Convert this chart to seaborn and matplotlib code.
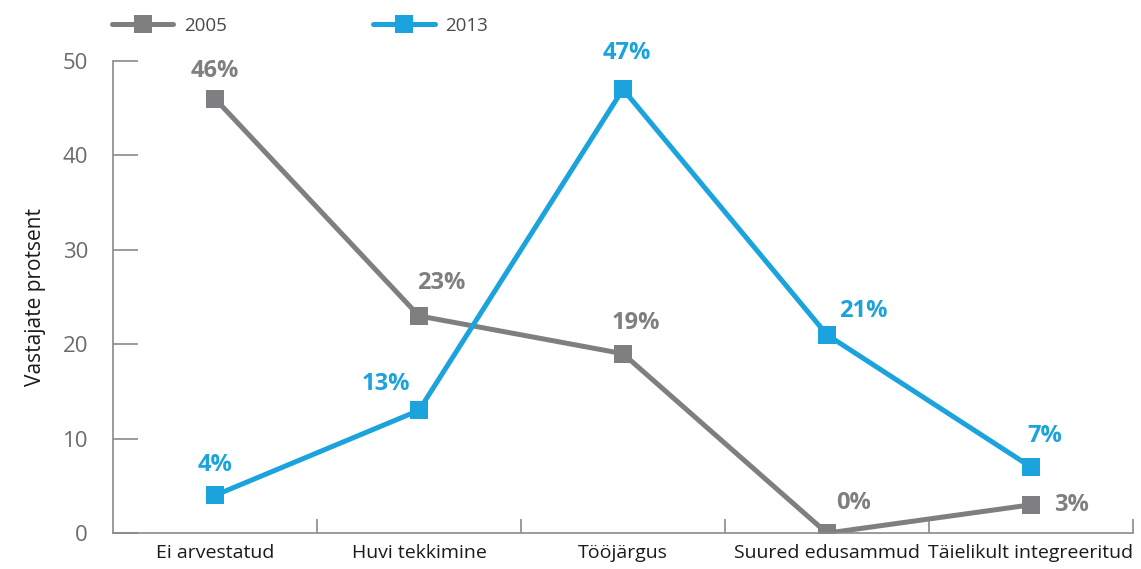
import matplotlib
matplotlib.use("Agg")
import matplotlib.pyplot as plt
import seaborn as sns
import pandas as pd
from matplotlib.lines import Line2D

categories = ["Ei arvestatud", "Huvi tekkimine", "Tööjärgus", "Suured edusammud", "Täielikult integreeritud"]
values_2005 = [46, 23, 19, 0, 3]
values_2013 = [4, 13, 47, 21, 7]
years = ["2005", "2013"]
yticks = [0, 10, 20, 30, 40, 50]

GRAY = "#7f7f82"
BLUE = "#1aa3dc"

sns.set_theme(style="white")
plt.rcParams['font.family'] = ['Open Sans', 'DejaVu Sans']

df = pd.DataFrame({
    "x": list(range(len(categories))) * 2,
    "value": values_2005 + values_2013,
    "year": [years[0]] * len(categories) + [years[1]] * len(categories),
})

fig = plt.figure(figsize=(11.41, 5.69), dpi=100)
ax = fig.add_axes([0.099, 0.063, 0.894, 0.830])

sns.lineplot(data=df, x="x", y="value", hue="year", palette={"2005": GRAY, "2013": BLUE},
             marker="s", markersize=12.5, markeredgewidth=0, linewidth=3.6, ax=ax, legend=False)

ax.set_xlim(-0.5, len(categories) - 0.5)
ax.set_ylim(0, 50)

# y ticks inward
ax.set_yticks(yticks)
ax.set_yticklabels([str(t) for t in yticks], fontsize=16, color="#6b6b6b")
ax.tick_params(axis='y', direction='in', length=18, width=1.2, color="#8a8a8a", pad=18, left=True)

# x labels at centers, no ticks; boundary ticks drawn inward
ax.set_xticks(range(len(categories)))
ax.set_xticklabels(categories, fontsize=14, color="#1a1a1a")
ax.tick_params(axis='x', length=0, pad=8)
ax.set_xticks([i + 0.5 for i in range(len(categories))], minor=True)
ax.tick_params(axis='x', which='minor', direction='in', length=10, width=1.2, color="#8a8a8a", bottom=True)

for s in ["top", "right"]:
    ax.spines[s].set_visible(False)
for s in ["left", "bottom"]:
    ax.spines[s].set_color("#8a8a8a")
    ax.spines[s].set_linewidth(1.2)

ax.set_xlabel("")
ax.set_ylabel("Vastajate protsent", fontsize=15, color="#1a1a1a", labelpad=12)

# data labels (offsets in points)
offs_2005 = [(0, 20), (16, 24), (9, 22), (19, 22), (29, 0)]
offs_2013 = [(0, 22), (-24, 19), (3, 26), (26, 17), (10, 22)]
for i, v in enumerate(values_2005):
    ax.annotate(f"{v}%", (i, v), xytext=offs_2005[i], textcoords="offset points",
                ha="center", va="center", fontsize=17, fontweight="bold", color=GRAY)
for i, v in enumerate(values_2013):
    ax.annotate(f"{v}%", (i, v), xytext=offs_2013[i], textcoords="offset points",
                ha="center", va="center", fontsize=17, fontweight="bold", color=BLUE)

# legend at top
handles = [Line2D([], [], color=GRAY, marker="s", markersize=12.5, markeredgewidth=0, linewidth=3.6),
           Line2D([], [], color=BLUE, marker="s", markersize=12.5, markeredgewidth=0, linewidth=3.6)]
leg = fig.legend(handles, years, loc="upper left", bbox_to_anchor=(0.083, 1.0), ncol=2,
                 frameon=False, handlelength=3.3, columnspacing=7.8, handletextpad=0.55,
                 prop={"size": 13.5})
for t in leg.get_texts():
    t.set_color("#4a4a4a")

fig.savefig("out.png", dpi=100)
